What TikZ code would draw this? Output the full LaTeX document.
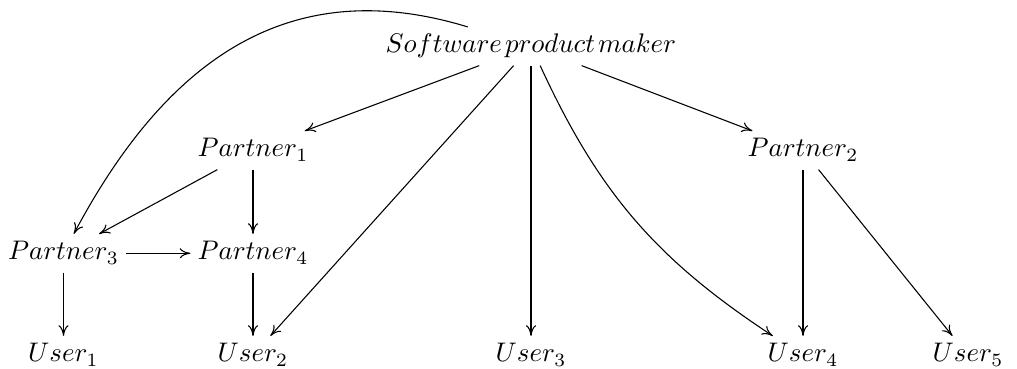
\documentclass[tikz,border=0pt]{standalone}
\usetikzlibrary{arrows.meta}
\begin{document}
\begin{tikzpicture}[x=0.372pt,y=-0.372pt,
  lbl/.style={inner sep=2.5pt, text height=7pt, text depth=2pt, anchor=base},
  arr/.style={-{To[length=4pt,width=3.8pt]}, line width=0.4pt}]
\useasboundingbox (0,0) rectangle (1017,369);
\node[lbl] (spm) at (531,53) {$Software\mskip2mu product\mskip2mu maker$};
\node[lbl] (p1) at (253,157) {$Partner_1$};
\node[lbl] (p2) at (803,157) {$Partner_2$};
\node[lbl] (p3) at (63.5,260) {$Partner_3$};
\node[lbl] (p4) at (253,260) {$Partner_4$};
\node[lbl] (u1) at (63.5,362) {$User_1$};
\node[lbl] (u2) at (253,362) {$User_2$};
\node[lbl] (u3) at (531,362) {$User_3$};
\node[lbl] (u4) at (803,362) {$User_4$};
\node[lbl] (u5) at (968,362) {$User_5$};
\draw[arr] (spm) -- (p1);
\draw[arr] (spm) -- (p2);
\draw[arr] (spm) -- (u2);
\draw[arr] (spm) -- (u3);
\draw[arr] (spm) to[bend right=16] (u4);
\draw[arr] (spm) to[out=163,in=62,looseness=1.1] (p3);
\draw[arr] (p1) -- (p3);
\draw[arr] (p1) -- (p4);
\draw[arr] (p3) -- (p4);
\draw[arr] (p3) -- (u1);
\draw[arr] (p4) -- (u2);
\draw[arr] (p2) -- (u4);
\draw[arr] (p2) -- (u5);
\end{tikzpicture}
\end{document}
